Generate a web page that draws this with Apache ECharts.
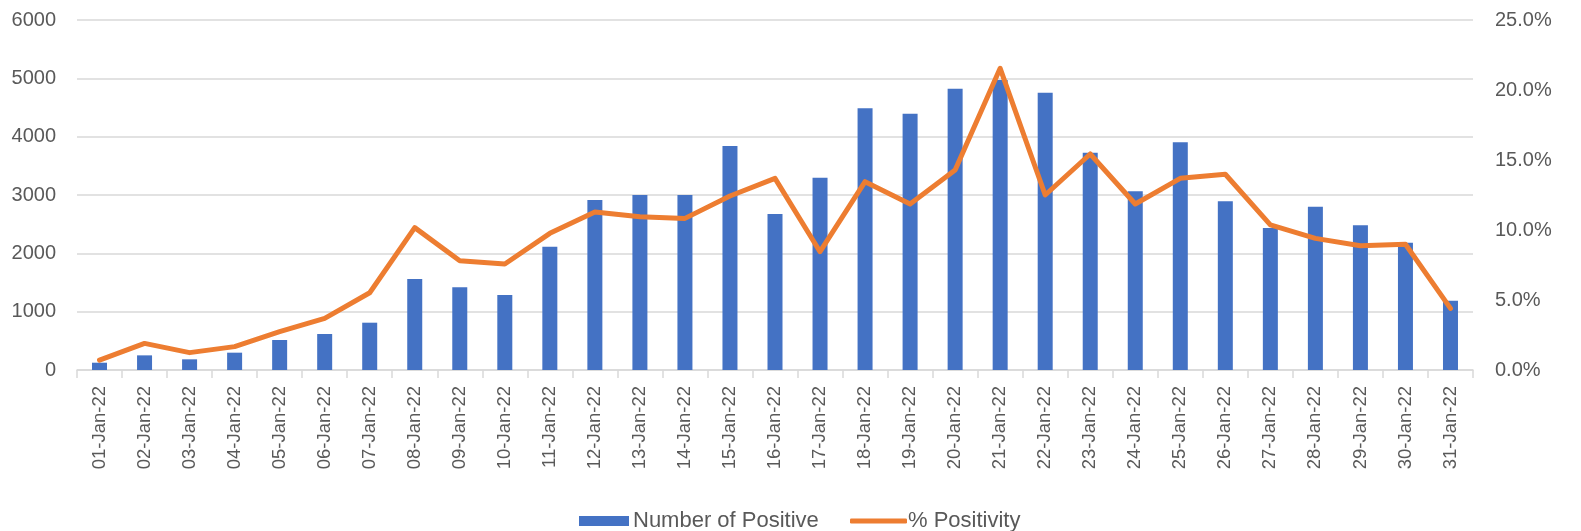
<!DOCTYPE html>
<html>
<head>
<meta charset="utf-8">
<script src="https://cdn.jsdelivr.net/npm/echarts@6/dist/echarts.min.js"></script>
<style>
html,body{margin:0;padding:0;background:#fff;}
#chart{width:1581px;height:531px;}
</style>
</head>
<body>
<div id="chart"></div>
<script>
const categories = ["01-Jan-22","02-Jan-22","03-Jan-22","04-Jan-22","05-Jan-22","06-Jan-22","07-Jan-22","08-Jan-22","09-Jan-22","10-Jan-22","11-Jan-22","12-Jan-22","13-Jan-22","14-Jan-22","15-Jan-22","16-Jan-22","17-Jan-22","18-Jan-22","19-Jan-22","20-Jan-22","21-Jan-22","22-Jan-22","23-Jan-22","24-Jan-22","25-Jan-22","26-Jan-22","27-Jan-22","28-Jan-22","29-Jan-22","30-Jan-22","31-Jan-22"];
const positives = [125,251,183,297,514,617,811,1560,1417,1286,2114,2914,3000,3000,3840,2674,3297,4486,4394,4823,4970,4754,3726,3063,3903,2891,2434,2800,2480,2183,1189];
const positivity = [0.71,1.9,1.24,1.67,2.74,3.69,5.52,10.17,7.81,7.57,9.76,11.29,10.95,10.83,12.43,13.69,8.45,13.45,11.86,14.29,21.55,12.5,15.43,11.86,13.69,13.98,10.36,9.4,8.88,8.98,4.4];
const seriesNames = ["Number of Positive","% Positivity"];

const textColor = '#595959';
const gridColor = '#d9d9d9';
const font = '"Liberation Sans", Arial, sans-serif';

const chart = echarts.init(document.getElementById('chart'), null, {renderer:'canvas'});
chart.setOption({
  animation: false,
  grid: {left: 77, right: 108, top: 20, bottom: 161, containLabel: false},
  legend: [
    {data: [seriesNames[0]], left: 574, top: 505, itemWidth: 50, itemHeight: 10, itemGap: 0,
     icon: 'rect', textStyle: {color: textColor, fontSize: 22, fontFamily: font, padding: [0,0,0,-1]}},
    {data: [{name: seriesNames[1], icon: 'roundRect'}], left: 845, top: 505, itemWidth: 57, itemHeight: 5, itemGap: 0,
     textStyle: {color: textColor, fontSize: 22, fontFamily: font, padding: [0,0,0,-4]}}
  ],
  xAxis: {
    type: 'category', data: categories, boundaryGap: true,
    axisLine: {lineStyle: {color: gridColor, width: 1.5}},
    axisTick: {show: true, alignWithLabel: false, length: 8, lineStyle: {color: gridColor, width: 1.5}},
    axisLabel: {rotate: 90, interval: 0, margin: 16, color: textColor, fontSize: 18.5, fontFamily: font}
  },
  yAxis: [
    {type: 'value', min: 0, max: 6000, interval: 1000,
     axisLine: {show: false}, axisTick: {show: false},
     splitLine: {lineStyle: {color: gridColor, width: 1.5}},
     axisLabel: {margin: 21, color: textColor, fontSize: 20, fontFamily: font,
       formatter: v => String(v)}},
    {type: 'value', min: 0, max: 25, interval: 5, position: 'right',
     axisLine: {show: false}, axisTick: {show: false}, splitLine: {show: false},
     axisLabel: {margin: 22, color: textColor, fontSize: 20, fontFamily: font,
       formatter: v => v.toFixed(1) + '%'}}
  ],
  series: [
    {name: seriesNames[0], type: 'bar', data: positives, barWidth: 15, yAxisIndex: 0,
     itemStyle: {color: '#4472C4'}},
    {name: seriesNames[1], type: 'line', data: positivity, yAxisIndex: 1, symbol: 'none',
     lineStyle: {color: '#ED7D31', width: 5, join: 'round', cap: 'round'},
     itemStyle: {color: '#ED7D31'}}
  ]
});
</script>
</body>
</html>
